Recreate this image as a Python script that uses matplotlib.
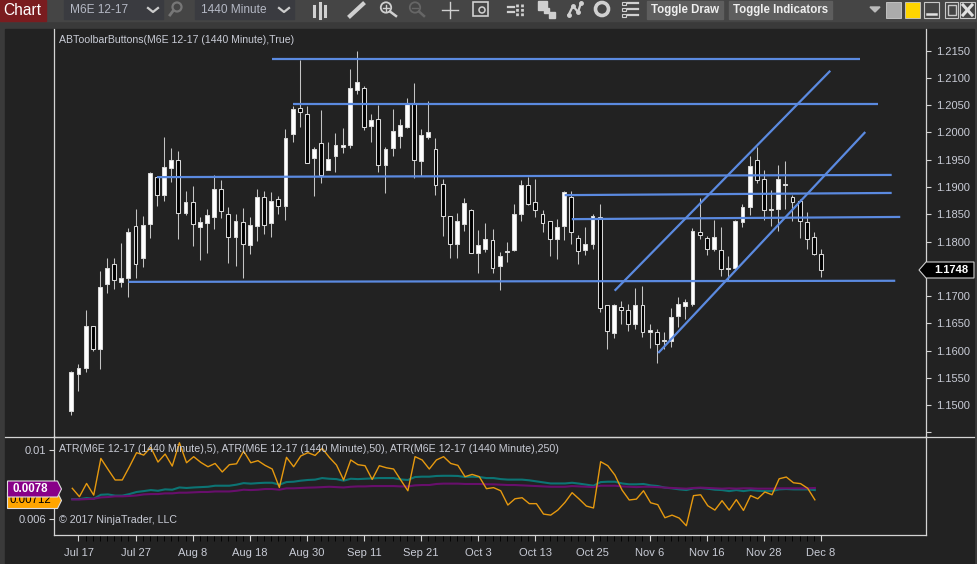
"""Daily M6E candles with hand-drawn support lines and three ATR studies below."""

import matplotlib

matplotlib.use("Agg")
import matplotlib.pyplot as plt
from matplotlib.patches import Polygon, Rectangle
import numpy as np

plt.rcParams["font.family"] = ["Liberation Sans", "DejaVu Sans"]

# price data in hundredths of a pip (1.1490 -> 11490)
OPENS = [11490, 11557, 11568, 11646, 11603, 11722, 11758, 11725, 11733, 11829,
         11770, 11832, 11919, 11885, 11935, 11950, 11853, 11873, 11827, 11834,
         11845, 11897, 11851, 11809, 11835, 11794, 11829, 11882, 11834, 11877,
         11865, 11997, 12044, 12033, 11953, 11981, 11931, 11957, 11974, 11977,
         12077, 12082, 12012, 12024, 11940, 11972, 11994, 12010, 12053, 11948,
         11992, 11970, 11906, 11846, 11796, 11832, 11857, 11779, 11787, 11802,
         11755, 11781, 11785, 11851, 11903, 11873, 11851, 11837, 11805, 11829,
         11881, 11807, 11785, 11796, 11845, 11684, 11633, 11680, 11675, 11649,
         11684, 11634, 11635, 11617, 11618, 11664, 11682, 11686, 11818, 11807,
         11786, 11785, 11749, 11752, 11835, 11863, 11950, 11914, 11857, 11860,
         11904, 11881, 11875, 11835, 11809, 11778]
HIGHS = [11562, 11576, 11674, 11646, 11746, 11769, 11769, 11797, 11824, 11859,
         11846, 11927, 11919, 11991, 11971, 11966, 11892, 11901, 11845, 11859,
         11922, 11912, 11864, 11850, 11861, 11845, 11897, 11892, 11890, 11883,
         12006, 12048, 12132, 12048, 11974, 12041, 11982, 11999, 12008, 12116,
         12149, 12085, 12033, 12050, 11974, 12043, 12024, 12063, 12090, 12006,
         12057, 11989, 11914, 11846, 11852, 11879, 11860, 11821, 11834, 11823,
         11780, 11799, 11868, 11912, 11918, 11914, 11857, 11837, 11841, 11892,
         11892, 11811, 11826, 11850, 11868, 11684, 11686, 11691, 11685, 11714,
         11718, 11648, 11639, 11634, 11678, 11698, 11694, 11824, 11879, 11810,
         11839, 11826, 11773, 11840, 11868, 11956, 11973, 11931, 11894, 11940,
         11947, 11885, 11877, 11854, 11818, 11786]
LOWS = [11482, 11526, 11561, 11599, 11566, 11705, 11713, 11716, 11698, 11733,
        11753, 11806, 11865, 11874, 11909, 11804, 11848, 11791, 11766, 11779,
        11823, 11843, 11760, 11755, 11733, 11777, 11801, 11813, 11808, 11850,
        11839, 11982, 12010, 11944, 11883, 11907, 11931, 11927, 11962, 11971,
        12070, 12004, 11982, 11927, 11889, 11956, 11971, 12008, 11916, 11920,
        11988, 11885, 11810, 11769, 11769, 11819, 11779, 11742, 11780, 11742,
        11711, 11762, 11782, 11837, 11867, 11845, 11817, 11773, 11768, 11802,
        11795, 11758, 11775, 11786, 11670, 11603, 11623, 11648, 11636, 11639,
        11625, 11604, 11577, 11603, 11606, 11643, 11658, 11681, 11804, 11775,
        11782, 11736, 11729, 11749, 11826, 11848, 11907, 11839, 11828, 11819,
        11859, 11837, 11806, 11786, 11775, 11735]
CLOSES = [11560, 11569, 11646, 11603, 11717, 11752, 11730, 11734, 11818, 11759,
          11831, 11925, 11885, 11937, 11950, 11853, 11873, 11832, 11835, 11848,
          11897, 11856, 11809, 11838, 11796, 11831, 11882, 11831, 11875, 11865,
          11989, 12042, 12038, 11944, 11970, 11922, 11952, 11976, 11976, 12082,
          12093, 12010, 12022, 11940, 11970, 12003, 12013, 12053, 11950, 11996,
          12000, 11904, 11847, 11796, 11838, 11870, 11779, 11793, 11804, 11752,
          11774, 11783, 11851, 11903, 11869, 11858, 11834, 11805, 11827, 11890,
          11818, 11783, 11796, 11846, 11678, 11636, 11683, 11675, 11649, 11684,
          11634, 11637, 11612, 11620, 11662, 11686, 11690, 11820, 11812, 11786,
          11809, 11749, 11752, 11837, 11864, 11939, 11913, 11857, 11859, 11914,
          11906, 11873, 11837, 11805, 11777, 11748]

# ATR studies, in units of 1e-5
ATR_5 = [778, 730, 806, 739, 950, 887, 826, 826, 902, 983, 969, 1013, 929, 975, 906,
         1040, 925, 960, 927, 902, 921, 872, 914, 919, 992, 925, 937, 910, 889, 783,
         956, 902, 964, 983, 967, 1008, 956, 912, 826, 941, 914, 908, 829, 908, 896,
         889, 826, 764, 960, 941, 889, 941, 960, 921, 910, 845, 858, 845, 776, 782,
         764, 682, 718, 724, 690, 690, 630, 624, 653, 697, 753, 716, 676, 665, 931,
         908, 854, 768, 711, 716, 764, 695, 684, 609, 624, 607, 563, 736, 741, 678,
         653, 707, 653, 713, 651, 736, 718, 757, 741, 833, 843, 810, 805, 778, 712]
ATR_50 = [716, 716, 722, 718, 741, 743, 736, 736, 745, 757, 762, 768, 764, 772, 770,
          783, 780, 783, 785, 787, 793, 793, 793, 799, 808, 805, 808, 810, 810, 799,
          814, 816, 822, 826, 828, 837, 833, 831, 822, 833, 831, 833, 835, 837, 837,
          837, 829, 826, 843, 845, 845, 849, 850, 850, 849, 843, 845, 843, 837, 837,
          831, 828, 828, 828, 824, 818, 812, 806, 806, 806, 810, 805, 799, 793, 814,
          816, 816, 806, 801, 801, 803, 795, 791, 782, 778, 772, 768, 778, 780, 776,
          770, 768, 762, 768, 762, 768, 764, 762, 762, 772, 774, 772, 772, 772, 768]
ATR_250 = [714, 714, 716, 718, 726, 728, 732, 732, 734, 737, 743, 745, 745, 749, 749,
           753, 753, 755, 757, 757, 760, 760, 760, 764, 770, 768, 770, 774, 774, 770,
           778, 778, 780, 782, 783, 785, 787, 785, 783, 787, 789, 789, 791, 791, 791,
           791, 789, 789, 795, 797, 797, 803, 805, 805, 805, 803, 803, 803, 801, 801,
           799, 797, 797, 795, 793, 791, 789, 787, 787, 787, 791, 789, 787, 785, 793,
           793, 793, 789, 787, 785, 787, 787, 785, 782, 780, 778, 776, 780, 782, 780,
           778, 776, 778, 776, 778, 778, 776, 776, 776, 778, 778, 778, 778, 778, 780]

# drawn objects as (bar, price, bar, price)
DRAWN_LINES = [
    (28.1, 1.21346, 110.4, 1.21346),
    (31.05, 1.2052, 113.0, 1.2052),
    (12.0, 1.1918, 114.9, 1.1922),
    (8.0, 1.1726, 115.4, 1.1728),
    (69.1, 1.1885, 114.9, 1.1889),
    (70.1, 1.1841, 116.1, 1.1845),
    (76.1, 1.17098, 106.3, 1.2113),
    (82.2, 1.15956, 111.2, 1.20007),
]

DATE_BARS = [1, 9, 17, 25, 33, 41, 49, 57, 65, 73, 81, 89, 97, 105]
DATE_LABELS = ["Jul 17", "Jul 27", "Aug 8", "Aug 18", "Aug 30", "Sep 11", "Sep 21",
               "Oct 3", "Oct 13", "Oct 25", "Nov 6", "Nov 16", "Nov 28", "Dec 8"]
PRICE_TICKS = [1.145, 1.15, 1.155, 1.16, 1.165, 1.17, 1.175, 1.18, 1.185, 1.19, 1.195,
               1.20, 1.205, 1.21, 1.215]
# 1.145 has a bare tick, 1.175 sits under the last price marker
PRICE_TICK_LABELS = ["", "1.1500", "1.1550", "1.1600", "1.1650", "1.1700", "", "1.1800",
                     "1.1850", "1.1900", "1.1950", "1.2000", "1.2050", "1.2100", "1.2150"]
ATR_TICKS = [0.006, 0.01]
ATR_TICK_LABELS = ["0.006", "0.01"]

BG = "#222222"
CHROME = "#3a3a3a"
AXIS = "#d4d4d4"
TEXT = "#c9ccd6"
BLUE = "#5b8ae0"
W, H = 978, 564


def px_axes(fig, left, top, right, bottom):
    return fig.add_axes([left / W, 1 - bottom / H, (right - left) / W, (bottom - top) / H])


def draw_chrome(ax):
    ax.add_patch(Rectangle((0, 0), W, H, color=CHROME, zorder=0))
    ax.add_patch(Rectangle((0, 0), W, 21, color="#454545", zorder=0))
    ax.add_patch(Rectangle((5, 29), 969, H - 29, color=BG, zorder=0))
    ax.add_patch(Rectangle((0, 0), 46, 21, color="#7a1c1f", zorder=1))
    ax.text(22, 10.5, "Chart", color="white", fontsize=11.2, ha="center", va="center")

    for left, right, label in [(64, 163, "M6E 12-17"), (195, 294, "1440 Minute")]:
        ax.add_patch(Rectangle((left, 0), right - left, 19, color="#3a3b40", zorder=1))
        ax.text(left + 6, 10, label, color="#b4b8c4", fontsize=8.6, va="center")
        ax.plot([right - 15, right - 10, right - 5], [8, 12, 8], color="#cccccc", lw=1.6)

    # toolbar glyphs
    gray = "#d0d0d0"
    ax.add_patch(plt.Circle((177, 7), 4.5, fill=False, ec="#777777", lw=1.6))
    ax.plot([173, 170], [11, 15], color="#777777", lw=2)
    for x, top, bottom in [(314, 6, 16), (320, 3, 18), (325, 6, 16)]:
        ax.plot([x, x], [top, bottom], color=gray, lw=2.2)
    ax.plot([350, 363], [16, 4], color=gray, lw=3)
    ax.add_patch(plt.Circle((386, 7.5), 5.2, fill=False, ec=gray, lw=1.3))
    ax.plot([390, 396], [11.5, 16], color=gray, lw=1.8)
    ax.plot([383, 389], [7.5, 7.5], color=gray, lw=1)
    ax.plot([386, 386], [4.5, 10.5], color=gray, lw=1)
    ax.add_patch(plt.Circle((415, 7.5), 5.2, fill=False, ec="#666666", lw=1.3))
    ax.plot([419, 424], [11.5, 16], color="#666666", lw=1.8)
    ax.plot([412, 418], [7.5, 7.5], color="#666666", lw=1)
    ax.plot([442, 458], [10, 10], color=gray, lw=1)
    ax.plot([450, 450], [2, 18], color=gray, lw=1)
    ax.add_patch(Rectangle((473, 2), 15, 14, fill=False, ec=gray, lw=1.2))
    ax.add_patch(plt.Circle((482, 10), 3, fill=False, ec=gray, lw=1.1))
    for x in [517, 522]:
        ax.plot([x, x], [4, 17], color=gray, lw=2, ls=(0, (1, 0.6)))
    ax.plot([508, 514], [7, 7], color=gray, lw=1.6)
    ax.plot([508, 514], [12, 12], color=gray, lw=1.6)
    ax.add_patch(Rectangle((538, 1), 9, 9, color=gray))
    ax.add_patch(Rectangle((544, 8), 5, 5, color=gray))
    ax.add_patch(Rectangle((549, 12), 6, 6, color=gray))
    ax.plot([568.5, 573, 578, 581], [15, 6, 12, 3], color=gray, lw=1.6, marker="o", ms=2.5)
    ax.add_patch(plt.Circle((602, 9), 6.5, fill=False, ec=gray, lw=2.6))
    for y in [3, 9, 15]:
        ax.add_patch(Rectangle((622, y - 1.5), 3.5, 3.5, fill=False, ec=gray, lw=0.8))
        ax.plot([628, 638], [y, y], color=gray, lw=1.6)

    for left, right, label in [(647, 723, "Toggle Draw"), (729, 832, "Toggle Indicators")]:
        ax.add_patch(Rectangle((left, 1), right - left, 18, color="#5e5e5e", zorder=1))
        ax.text((left + right) / 2, 10, label, color="#eeeeee", fontsize=8.3,
                fontweight="bold", ha="center", va="center")

    ax.add_patch(Polygon([(870, 7), (880, 7), (875, 12)], color="#bbbbbb"))
    ax.add_patch(Rectangle((886, 2), 15, 16, color="#ababab", ec="#cccccc", lw=0.6))
    ax.add_patch(Rectangle((905, 2), 15, 16, color="#ffd500", ec="#cccccc", lw=0.6))
    for left, right in [(924, 939), (945, 958), (960, 975)]:
        ax.add_patch(Rectangle((left, 2), right - left, 16, fill=False, ec="#c8c8c8", lw=0.8))
    ax.plot([927, 936], [14, 14], color="#e0e0e0", lw=1.8)
    ax.add_patch(Rectangle((948, 5), 8, 10, fill=False, ec="#c8c8c8", lw=1))
    ax.plot([963, 972], [5, 15], color="#e0e0e0", lw=2.2)
    ax.plot([963, 972], [15, 5], color="#e0e0e0", lw=2.2)


def draw_candles(ax):
    for i, (o, h, l, c) in enumerate(zip(OPENS, HIGHS, LOWS, CLOSES)):
        o, h, l, c = o / 1e4, h / 1e4, l / 1e4, c / 1e4
        ax.plot([i, i], [l, h], color="#c4c4c4", lw=0.75, zorder=2, solid_capstyle="butt")
        face = "white" if c >= o else "black"
        ax.add_patch(Rectangle((i - 0.27, min(o, c)), 0.54, abs(c - o), facecolor=face,
                               edgecolor="#d8d8d8", lw=0.75, zorder=3))


def flag(ax, left, right, top, bottom, face, label, color, z, weight="normal"):
    mid = (top + bottom) / 2
    points = [(left, top), (right - 4, top), (right, mid), (right - 4, bottom), (left, bottom)]
    ax.add_patch(Polygon(points, facecolor=face, edgecolor="#dddddd", lw=0.8, zorder=z))
    ax.text(left + 22.5, mid - 0.3, label, color=color, fontsize=8.3, fontweight=weight,
            ha="center", va="center", zorder=z + 0.5)


def main():
    fig = plt.figure(figsize=(W / 100, H / 100), dpi=100, facecolor=CHROME)

    chrome = px_axes(fig, 0, 0, W, H)
    chrome.set_xlim(0, W)
    chrome.set_ylim(H, 0)
    chrome.axis("off")
    draw_chrome(chrome)

    # bar i sits at 71.3 + 7.14 * i px, price 1.18 at 241.5 px with 5455 px per unit
    left_px, right_px, top_px, split_px, bottom_px = 54.5, 926.5, 29, 436.5, 534.5
    xlim = ((left_px - 71.3) / 7.14, (right_px - 71.3) / 7.14)

    price = px_axes(fig, left_px, top_px, right_px, split_px)
    price.patch.set_alpha(0)
    price.set_xlim(*xlim)
    price.set_ylim(1.18 + (241.5 - split_px) / 5455, 1.18 + (241.5 - top_px) / 5455)
    draw_candles(price)
    for x0, y0, x1, y1 in DRAWN_LINES:
        price.plot([x0, x1], [y0, y1], color=BLUE, lw=1.6, zorder=5, solid_capstyle="butt")
    price.yaxis.tick_right()
    price.set_yticks(PRICE_TICKS)
    price.set_yticklabels(PRICE_TICK_LABELS)
    price.set_xticks([])
    price.tick_params(axis="y", colors=AXIS, labelcolor=TEXT, labelsize=8, length=3.6, width=0.8, pad=3)
    for name, spine in price.spines.items():
        spine.set_visible(name in ("left", "right"))
        spine.set_color(AXIS)
        spine.set_linewidth(0.9)

    atr = px_axes(fig, left_px, split_px, right_px, bottom_px)
    atr.patch.set_alpha(0)
    atr.set_xlim(*xlim)
    atr.set_ylim(0.01 - (bottom_px - 449.7) / 17400, 0.01 - (split_px - 449.7) / 17400)
    bars = np.arange(len(ATR_5)) + 0.14
    atr.plot(bars, np.array(ATR_50) / 1e5, color="#0c7474", lw=1.5)
    atr.plot(bars, np.array(ATR_250) / 1e5, color="#680f6c", lw=1.5)
    atr.plot(bars, np.array(ATR_5) / 1e5, color="#e6990f", lw=1.0)
    atr.set_yticks(ATR_TICKS)
    atr.set_yticklabels(ATR_TICK_LABELS)
    atr.set_xticks(DATE_BARS)
    atr.set_xticklabels(DATE_LABELS)
    atr.set_xticks(range(1, 106), minor=True)
    atr.tick_params(axis="both", colors=AXIS, labelcolor=TEXT, labelsize=8, width=0.8)
    atr.tick_params(axis="y", length=3.6, pad=2.5)
    atr.tick_params(axis="x", which="major", length=4, pad=5.8)
    atr.tick_params(axis="x", which="minor", length=4)
    for name, spine in atr.spines.items():
        spine.set_color(AXIS)
        spine.set_linewidth(0.9)

    # overlay text and flags on top of both panels
    over = px_axes(fig, 0, 0, W, H)
    over.set_xlim(0, W)
    over.set_ylim(H, 0)
    over.axis("off")
    over.plot([5, 974], [436.5, 436.5], color=AXIS, lw=0.9)
    over.text(59, 40, "ABToolbarButtons(M6E 12-17 (1440 Minute),True)", color=TEXT, fontsize=7.6, va="center")
    over.text(59, 449, "ATR(M6E 12-17 (1440 Minute),5), ATR(M6E 12-17 (1440 Minute),50), "
              "ATR(M6E 12-17 (1440 Minute),250)", color=TEXT, fontsize=7.65, va="center")
    over.text(59, 520, "\u00a9 2017 NinjaTrader, LLC", color=TEXT, fontsize=7.7, va="center")
    flag(over, 7.5, 61.5, 492.5, 508.5, "#ffa500", f"{ATR_5[-1] / 1e5:.5f}", "black", 6)
    flag(over, 7.5, 61.5, 481, 497, "#880088", f"{ATR_250[-1] / 1e5:.4f}", "white", 8, "bold")
    mid = 270
    over.add_patch(Polygon([(919, mid), (926, 262), (974, 262), (974, 278), (926, 278)],
                           facecolor="black", edgecolor="#cfcfcf", lw=0.8, zorder=6))
    over.text(951, mid + 0.3, f"{CLOSES[-1] / 1e4:.4f}", color="white", fontsize=8, fontweight="bold",
              ha="center", va="center", zorder=7)

    fig.savefig("out.png", dpi=100, facecolor=fig.get_facecolor())
    plt.close(fig)


if __name__ == "__main__":
    main()
